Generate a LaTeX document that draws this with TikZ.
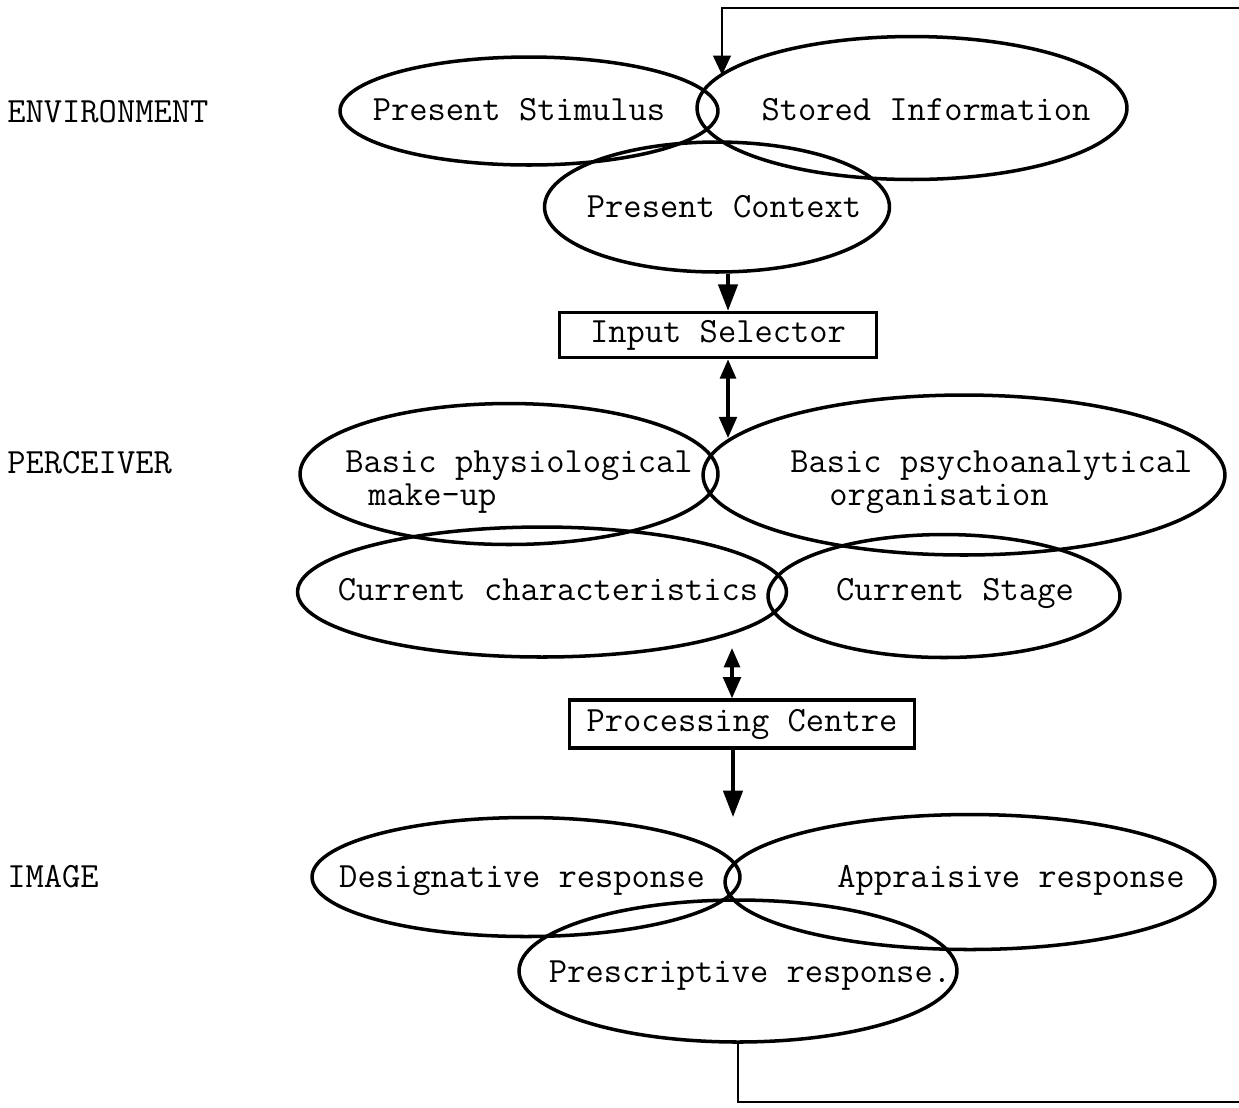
\documentclass[tikz,border=0pt]{standalone}
\usepackage{fontspec}
\usetikzlibrary{shapes.geometric,arrows.meta}

\begin{document}
\begin{tikzpicture}[x=0.02cm, y=-0.02cm,
  blob/.style={ellipse, draw, line width=2pt, inner sep=0pt},
  txt/.style={font=\ttfamily\fontsize{20.2}{19}\selectfont, inner sep=0pt, text height=0.61em, text depth=0pt},
  txt2/.style={font=\ttfamily\fontsize{20.2}{19}\selectfont, inner sep=0pt, align=left, anchor=west},
  lbl/.style={txt, anchor=west},
  box/.style={draw, line width=2pt, inner sep=0pt, font=\ttfamily\fontsize{20.2}{19}\selectfont, text height=0.85em, text depth=0pt},
  arr/.style={line width=1.9pt, -{Triangle[length=15pt,width=11pt]}},
  dbl/.style={line width=1.9pt, {Triangle[length=11pt,width=9pt]}-{Triangle[length=12pt,width=10pt]}},
  feed/.style={line width=1.3pt, -{Triangle[length=11pt,width=10pt]}}]
\useasboundingbox (0,0) rectangle (1239,1107);

% levels
\node[lbl] (env-l) at (7,117) {ENVIRONMENT};
\node[lbl] (per-l) at (7,468) {PERCEIVER};
\node[lbl] (img-l) at (7,882) {IMAGE};

% environment
\node[blob, minimum width=7.56cm, minimum height=2.16cm] (stim) at (529,111) {};
\node[blob, minimum width=8.6cm, minimum height=2.86cm] (stored) at (912,108) {};
\node[blob, minimum width=6.9cm, minimum height=2.6cm] (ctx) at (717,207) {};
\node[txt] (stim-t) at (519,115) {Present Stimulus};
\node[txt] (stored-t) at (926,115) {Stored Information};
\node[txt] (ctx-t) at (724,212) {Present Context};

\node[box, minimum width=6.34cm, minimum height=0.9cm] (sel) at (718,335) {Input Selector};

% perceiver
\node[blob, minimum width=8.36cm, minimum height=2.82cm] (phys) at (509,474) {};
\node[blob, minimum width=10.44cm, minimum height=3.2cm] (psy) at (964,475) {};
\node[blob, minimum width=9.78cm, minimum height=2.6cm] (cur) at (542,592) {};
\node[blob, minimum width=7.04cm, minimum height=2.46cm] (stage) at (944,596) {};
\node[txt2] (phys-t) at (345,482) {Basic physiological\\\hspace*{0.65em}make-up};
\node[txt2] (psy-t) at (790,482) {Basic psychoanalytical\\\hspace*{1.1em}organisation};
\node[txt] (cur-t) at (548,595) {Current characteristics};
\node[txt] (stage-t) at (955,595) {Current Stage};

\node[box, minimum width=6.9cm, minimum height=0.96cm] (proc) at (742,724) {Processing Centre};

% image
\node[blob, minimum width=8.56cm, minimum height=2.38cm] (des) at (526,877) {};
\node[blob, minimum width=9.8cm, minimum height=2.7cm] (app) at (970,882) {};
\node[blob, minimum width=8.76cm, minimum height=2.84cm] (pre) at (738,971) {};
\node[txt] (des-t) at (522,882) {Designative response};
\node[txt] (app-t) at (1011,882) {Appraisive response};
\node[txt] (pre-t) at (750,977) {Prescriptive response.};

% connectors
\coordinate (env-in) at (722,75);
\coordinate (per-in) at (728,438);
\coordinate (cur-out) at (732,648);
\coordinate (img-in) at (733,817);
\coordinate (back-b) at (1250,1102);
\coordinate (back-t) at (1250,8);

\draw[arr] (ctx.south -| per-in) -- (per-in |- sel.north);
\draw[dbl] (sel.south -| per-in) -- (per-in);
\draw[dbl] (cur-out) -- (cur-out |- proc.north);
\draw[arr] (proc.south -| img-in) -- (img-in);
\draw[feed] (pre.south) |- (back-b) -- (back-t) -| (env-in);
\end{tikzpicture}
\end{document}
